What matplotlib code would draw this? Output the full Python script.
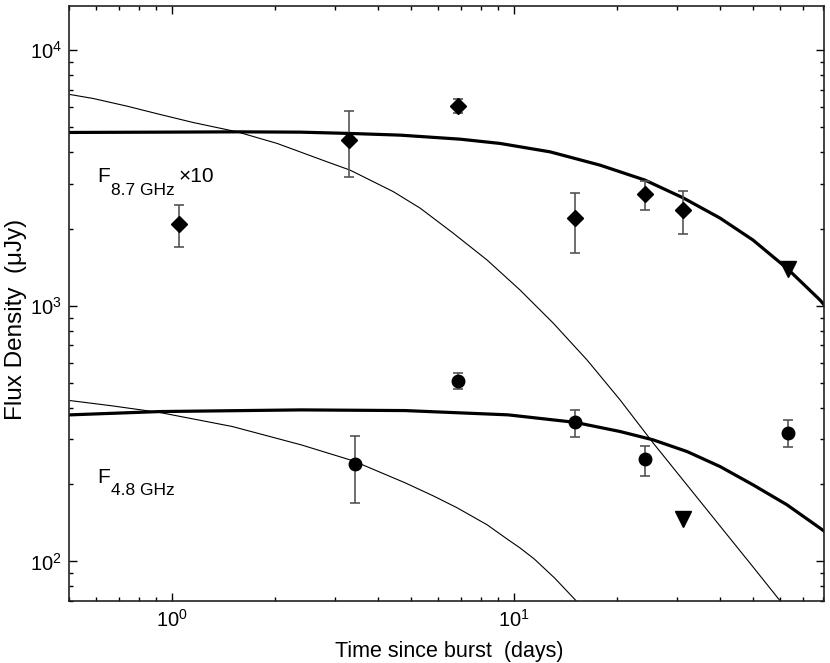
import matplotlib
matplotlib.use("Agg")
import matplotlib.pyplot as plt
from matplotlib.ticker import NullFormatter

plt.rcParams['font.family'] = ['Liberation Sans', 'DejaVu Sans']
plt.rcParams['mathtext.fontset'] = 'custom'
plt.rcParams['mathtext.rm'] = 'Liberation Sans'
plt.rcParams['mathtext.it'] = 'Liberation Sans:italic'
plt.rcParams['mathtext.default'] = 'regular'

# 8.7 GHz detections (flux x10), uJy
t_87 = [1.05, 3.30, 6.89, 15.1, 24.2, 31.3]
f_87 = [2090, 4450, 6040, 2200, 2740, 2370]
f_87_lo = [1700, 3190, 5680, 1610, 2370, 1910]
f_87_hi = [2480, 5780, 6430, 2760, 3070, 2810]
t_87_lim = [63.5]
f_87_lim = [1393]

# 4.8 GHz detections, uJy
t_48 = [3.43, 6.89, 15.1, 24.2, 63.5]
f_48 = [240, 509, 351, 251, 319]
f_48_lo = [170, 473, 307, 216, 281]
f_48_hi = [310, 547, 392, 283, 358]
t_48_lim = [31.3]
f_48_lim = [147]

# model curves
t_thick_87 = [0.504, 0.924, 1.552, 2.372, 3.321, 4.651, 6.966, 9.12, 12.77, 17.88, 24.2,
              31.26, 40.11, 50.08, 62.98, 78.64, 80.8]
f_thick_87 = [4769, 4782, 4795, 4782, 4726, 4655, 4489, 4319, 4004, 3552, 3104,
              2647, 2205, 1809, 1402, 1054, 1010]
t_thin_87 = [0.504, 0.589, 0.740, 0.924, 1.154, 1.552, 2.032, 2.845, 3.321, 4.437, 5.321,
             6.645, 8.355, 10.43, 13.03, 16.38, 20.46, 25.55, 32.12, 40.11, 50.08, 60.07]
f_thin_87 = [6711, 6474, 6041, 5607, 5216, 4795, 4319, 3659, 3396, 2800, 2412,
             1926, 1511, 1153, 857, 614, 428.5, 291, 199, 137.6, 95.2, 70.2]
t_thick_48 = [0.504, 0.924, 2.388, 4.811, 9.623, 15.1, 20.46, 25.55, 32.12, 40.11, 50.08,
              62.98, 78.64, 80.8]
f_thick_48 = [374.5, 385.8, 391.6, 389.2, 374.5, 350.1, 322.3, 299.0, 269.1, 235.1, 199.4,
              166.5, 135.0, 131.5]
t_thin_48 = [0.504, 0.669, 0.924, 1.501, 2.388, 3.389, 4.811, 5.808, 6.828, 8.355, 9.623,
             10.43, 11.5, 13.2, 15.21]
f_thin_48 = [425.9, 406.1, 382.3, 337.2, 285.8, 247.5, 203.0, 180.6, 162.1, 139.1, 121.6,
             112.9, 102, 85.8, 70.2]

fig = plt.figure(figsize=(8.3, 6.63), dpi=100)
ax = fig.add_axes([69 / 830, 1 - 601 / 663, (824 - 69) / 830, (601 - 6) / 663])
ax.set_xscale('log')
ax.set_yscale('log')

ax.plot(t_thin_87, f_thin_87, color='black', lw=0.8)
ax.plot(t_thin_48, f_thin_48, color='black', lw=0.8)
ax.plot(t_thick_87, f_thick_87, color='black', lw=2.3)
ax.plot(t_thick_48, f_thick_48, color='black', lw=2.3)

err_87 = [[f - lo for f, lo in zip(f_87, f_87_lo)], [hi - f for f, hi in zip(f_87, f_87_hi)]]
err_48 = [[f - lo for f, lo in zip(f_48, f_48_lo)], [hi - f for f, hi in zip(f_48, f_48_hi)]]
ax.errorbar(t_87, f_87, yerr=err_87, fmt='D', color='black', ms=8.5,
            ecolor='#555555', elinewidth=1.2, capsize=3.6, capthick=1.2)
ax.errorbar(t_48, f_48, yerr=err_48, fmt='o', color='black', ms=9,
            ecolor='#555555', elinewidth=1.2, capsize=3.6, capthick=1.2)
ax.plot(t_87_lim, f_87_lim, 'v', color='black', ms=11)
ax.plot(t_48_lim, f_48_lim, 'v', color='black', ms=11)

ax.set_xlim(0.5, 80.8)
ax.set_ylim(70, 14900)

ax.tick_params(which='both', direction='in', top=True, right=True, labelsize=14.5, width=1)
ax.tick_params(which='major', length=6)
ax.tick_params(which='minor', length=3)
ax.tick_params(axis='x', pad=6)
ax.tick_params(axis='y', pad=5)
ax.xaxis.set_minor_formatter(NullFormatter())
ax.yaxis.set_minor_formatter(NullFormatter())
for sp in ax.spines.values():
    sp.set_linewidth(1.2)
    sp.set_color('#222222')

# band labels: F, subscript, and the x10 factor
ax.text(0.6035, 3056, 'F', fontsize=15, va='baseline')
ax.annotate('8.7 GHz', xy=(0.6035, 3056), xytext=(10, -9.5), textcoords='offset points',
            fontsize=12.5, va='baseline', ha='left')
ax.annotate('\u00d710', xy=(0.6035, 3056), xytext=(59, 0), textcoords='offset points',
            fontsize=15, va='baseline', ha='left')
ax.text(0.6035, 203, 'F', fontsize=15, va='baseline')
ax.annotate('4.8 GHz', xy=(0.6035, 203), xytext=(10, -8.5), textcoords='offset points',
            fontsize=12.5, va='baseline', ha='left')

fig.text(449 / 830, 1 - 651 / 663, 'Time since burst  (days)', fontsize=15.5, ha='center', va='center')
fig.text(16 / 830, 1 - 319 / 663, 'Flux Density  (\u03bcJy)', fontsize=17.5, ha='center', va='center',
         rotation=90)

fig.savefig('out.png', dpi=100)
